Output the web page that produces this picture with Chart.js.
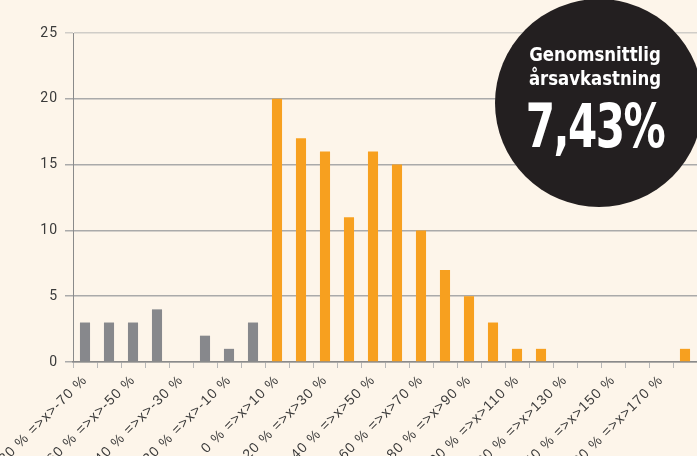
<!DOCTYPE html>
<html>
<head>
<meta charset="utf-8">
<script src="https://cdn.jsdelivr.net/npm/chart.js@4.4.0/dist/chart.umd.min.js"></script>
<style>
  html, body { margin: 0; padding: 0; background: #fdf5ea; overflow: hidden; }
  #wrap { position: relative; width: 697px; height: 456px; }
  #badge {
    position: absolute; left: 495px; top: -1px; width: 208px; height: 208px;
    border-radius: 50%; background: #231f20; color: #fff; text-align: center;
    font-family: "DejaVu Sans Condensed", "DejaVu Sans", sans-serif; font-weight: bold;
  }
  #badge div { position: absolute; left: 0; right: 8px; white-space: nowrap; }
  #badge .small { font-size: 20px; transform: scaleX(0.92); }
  #badge .big { top: 92px; font-size: 60px; letter-spacing: -2px; transform: scaleX(0.78); }
</style>
</head>
<body>
<div id="wrap">
  <canvas id="chart" width="697" height="456"></canvas>
  <div id="badge">
    <div class="small" style="top:43px">Genomsnittlig</div>
    <div class="small" style="top:67px">årsavkastning</div>
    <div class="big">7,43%</div>
  </div>
</div>
<script>
// bins: lower bound of each 10 % interval
const binStart = [-80, -70, -60, -50, -40, -30, -20, -10, 0, 10, 20, 30, 40, 50, 60, 70, 80, 90, 100, 110, 120, 130, 140, 150, 160, 170]
const counts = [3, 3, 3, 4, 0, 2, 1, 3, 20, 17, 16, 11, 16, 15, 10, 7, 5, 3, 1, 1, 0, 0, 0, 0, 0, 1]
const yTicks = [0, 5, 10, 15, 20, 25]

const labels = binStart.map(b => b + ' % =>x>' + (b + 10) + ' %')
const barColors = binStart.map(b => b < 0 ? '#87888c' : '#f7a01f')

const textColor = '#3a3a3a'

// wider letter spacing for the axis text
const spacing = {
    id: 'spacing',
    beforeDraw: chart => { chart.ctx.letterSpacing = '1px' }
}

new Chart(document.getElementById('chart'), {
    type: 'bar',
    data: {
        labels: labels,
        datasets: [{
            data: counts,
            backgroundColor: barColors,
            barPercentage: 0.42,
            categoryPercentage: 1
        }]
    },
    options: {
        responsive: false,
        animation: false,
        layout: { padding: { top: 33, left: 0, right: 0, bottom: 0 } },
        plugins: {
            legend: { display: false },
            tooltip: { enabled: false }
        },
        scales: {
            x: {
                offset: true,
                grid: {
                    offset: true,
                    drawOnChartArea: false,
                    drawTicks: true,
                    tickLength: 6,
                    color: '#b8b8b8'
                },
                border: { color: '#8a8a8a', width: 1.5 },
                ticks: {
                    autoSkip: false,
                    minRotation: 45,
                    maxRotation: 45,
                    padding: 4,
                    color: textColor,
                    font: { family: '"Liberation Sans", sans-serif', size: 14 },
                    callback: function (v, i) { return i % 2 === 0 ? labels[i] : '' }
                },
                afterFit: function (s) {
                    s.height = 94
                    s.paddingLeft = 0
                    s.paddingRight = 0
                }
            },
            y: {
                min: 0,
                max: 25,
                afterBuildTicks: function (s) { s.ticks = yTicks.map(v => ({ value: v })) },
                grid: {
                    color: ctx => ctx.tick && ctx.tick.value === 25 ? '#d0cdc8' : '#aaaaaa',
                    lineWidth: 1.5,
                    tickLength: 8
                },
                border: { color: '#8a8a8a', width: 1 },
                ticks: {
                    padding: 7,
                    color: textColor,
                    font: { family: 'Roboto, sans-serif', size: 14 }
                },
                afterFit: function (s) {
                    s.width = 73
                    s.paddingTop = 0
                    s.paddingBottom = 0
                }
            }
        }
    },
    plugins: [spacing]
})
</script>
</body>
</html>
